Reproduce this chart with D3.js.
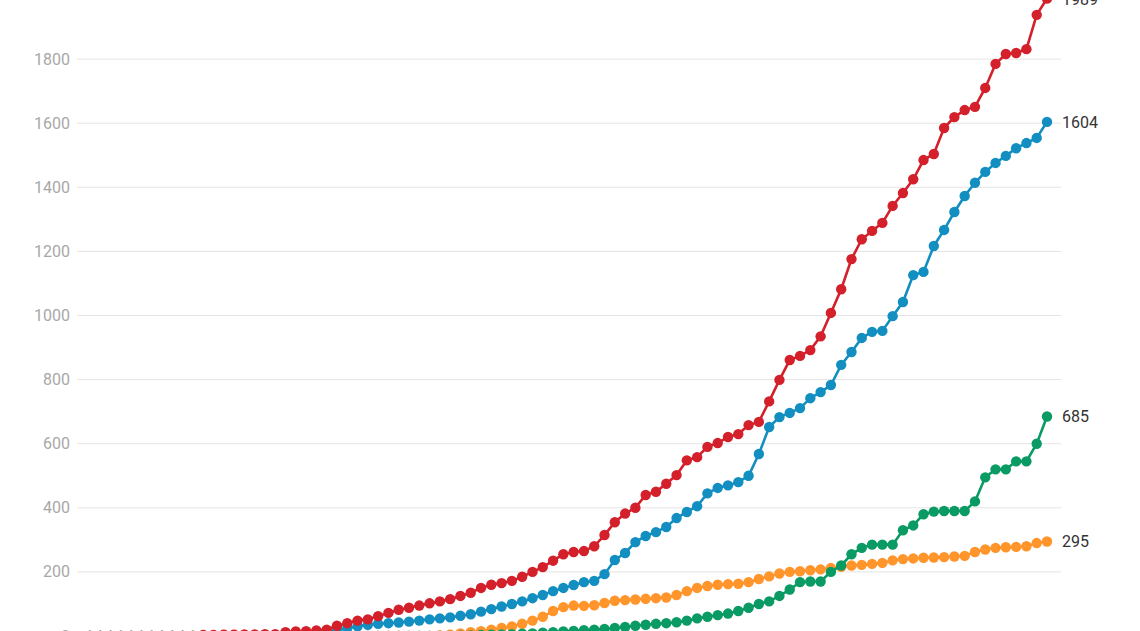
<!DOCTYPE html>
<html><head><meta charset="utf-8">
<script src="https://cdn.jsdelivr.net/npm/d3@7"></script>
<style>body{margin:0;background:#fff}svg{display:block}</style>
</head><body><svg id="c" width="1140" height="631"></svg>
<script>
const yTicks=[0,200,400,600,800,1000,1200,1400,1600,1800];
const red=[0,0,0,0,0,0,0,0,0,0,0,3,3,4,4,5,5,6,6,12,14,15,17,20,32,40,48,52,62,72,82,88,95,102,108,115,125,135,150,160,165,172,185,200,215,235,255,262,265,280,315,355,382,400,440,450,475,502,548,558,590,602,621,630,658,668,732,799,861,874,892,935,1008,1082,1176,1238,1264,1289,1342,1382,1425,1485,1504,1585,1619,1641,1651,1710,1785,1816,1819,1831,1938,1989];
const blue=[0,0,0,0,0,0,0,0,0,0,0,1,1,1,1,2,2,2,3,3,5,6,8,12,18,25,30,35,38,40,42,45,48,52,55,58,63,68,76,84,92,100,108,118,128,140,150,159,168,172,193,237,259,293,312,324,340,368,387,405,445,462,470,480,500,568,652,683,696,711,742,761,783,846,886,930,949,952,998,1042,1126,1136,1217,1267,1323,1373,1414,1448,1476,1498,1522,1538,1554,1604];
const orange=[0,0,0,0,0,0,0,0,0,0,0,0,0,0,0,0,0,0,0,0,0,0,0,0,0,0,0,0,0,0,0,0,0,0,2,4,8,12,15,20,25,30,38,48,60,78,90,95,94,96,103,110,112,114,116,118,120,128,140,150,156,160,162,163,168,178,186,195,200,202,205,208,212,216,220,222,225,228,236,240,242,244,245,246,248,250,262,270,275,277,278,280,290,295];
const green=[0,0,0,0,0,0,0,0,0,0,0,0,0,0,0,0,0,0,0,0,0,0,0,0,0,0,0,0,0,0,0,0,0,0,0,0,1,2,3,4,5,6,7,8,10,12,14,16,18,20,22,25,28,32,35,38,40,43,48,55,60,65,70,78,88,100,108,125,145,168,170,170,200,220,255,275,285,285,285,330,345,380,388,390,390,390,420,495,520,520,545,545,600,685];
const series=[{v:orange,c:"#ff952b"},{v:green,c:"#0a9a64"},{v:blue,c:"#128fc0"},{v:red,c:"#d3202a"}];
const svg=d3.select("#c");
const x=d3.scaleLinear().domain([0,red.length-1]).range([90,1047]);
const y=d3.scaleLinear().domain([0,2000]).range([636,-5]);
svg.append("g").selectAll("line").data(yTicks).join("line")
 .attr("x1",77).attr("x2",1061).attr("y1",d=>y(d)).attr("y2",d=>y(d))
 .attr("stroke","#e4e4e4").attr("stroke-width",1);
svg.append("g").selectAll("text").data(yTicks).join("text")
 .attr("x",70).attr("y",d=>y(d)+5.5).attr("text-anchor","end")
 .attr("font-family","Roboto").attr("font-size",16).attr("fill","#a8a8a8").text(d=>d);
const line=d3.line().x((d,i)=>x(i)).y(d=>y(d));
series.forEach(s=>{
 const g=svg.append("g");
 g.append("path").attr("d",line(s.v)).attr("fill","none").attr("stroke",s.c).attr("stroke-width",2.6);
 g.selectAll("circle").data(s.v).join("circle").attr("cx",(d,i)=>x(i)).attr("cy",d=>y(d)).attr("r",5.2).attr("fill",s.c);
 const last=s.v[s.v.length-1];
 g.append("text").attr("x",x(s.v.length-1)+15).attr("y",y(last)+6)
  .attr("font-family","Roboto").attr("font-size",16).attr("fill","#333").text(last);
});
</script></body></html>
